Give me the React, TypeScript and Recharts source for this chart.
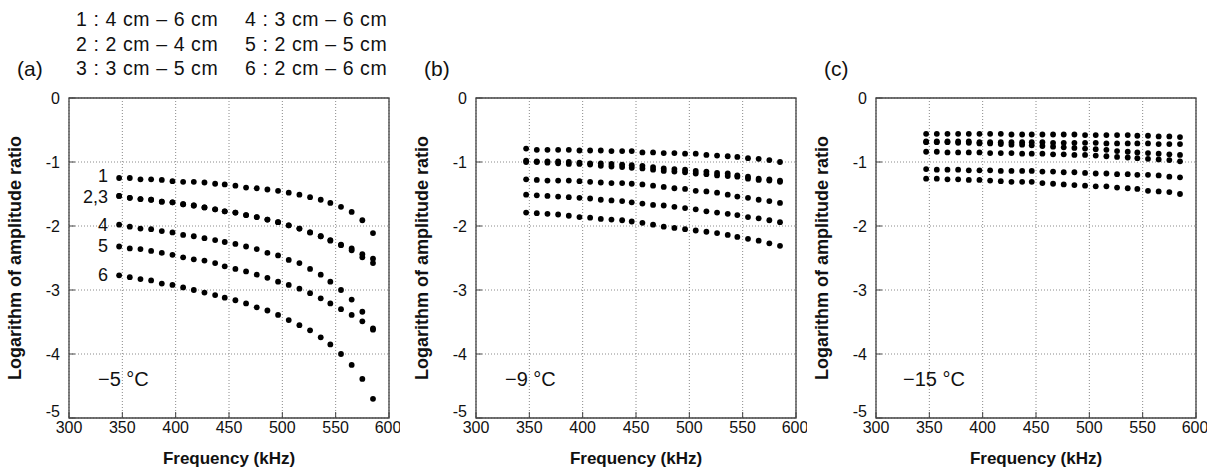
import { ScatterChart, Scatter, XAxis, YAxis, CartesianGrid, ReferenceArea } from 'recharts'

// frequencies (kHz) shared by every series
const FREQ = [347, 357, 367, 377, 387, 397, 407, 417, 427, 437, 446, 456, 466, 476, 486, 496, 506, 516, 526, 536, 545, 555, 565, 575, 585]

// (a) -5 °C
const A1 = [-1.25, -1.25, -1.27, -1.27, -1.28, -1.30, -1.31, -1.31, -1.32, -1.34, -1.35, -1.37, -1.40, -1.41, -1.43, -1.45, -1.48, -1.51, -1.55, -1.59, -1.64, -1.70, -1.78, -1.91, -2.11]
const A2 = [-1.53, -1.56, -1.58, -1.59, -1.62, -1.63, -1.66, -1.68, -1.71, -1.74, -1.77, -1.79, -1.83, -1.86, -1.90, -1.94, -1.99, -2.04, -2.10, -2.16, -2.22, -2.29, -2.35, -2.44, -2.51]
const A3 = [-1.53, -1.56, -1.58, -1.59, -1.62, -1.63, -1.66, -1.68, -1.71, -1.74, -1.77, -1.79, -1.83, -1.86, -1.90, -1.94, -1.99, -2.04, -2.10, -2.16, -2.23, -2.30, -2.38, -2.49, -2.58]
const A4 = [-1.98, -2.01, -2.04, -2.05, -2.08, -2.10, -2.14, -2.16, -2.19, -2.22, -2.25, -2.28, -2.32, -2.36, -2.42, -2.46, -2.53, -2.58, -2.67, -2.76, -2.87, -3.00, -3.15, -3.34, -3.60]
const A5 = [-2.32, -2.35, -2.36, -2.39, -2.42, -2.45, -2.49, -2.52, -2.54, -2.58, -2.63, -2.67, -2.71, -2.76, -2.81, -2.87, -2.92, -2.98, -3.05, -3.13, -3.21, -3.30, -3.39, -3.49, -3.62]
const A6 = [-2.77, -2.80, -2.83, -2.85, -2.90, -2.92, -2.96, -3.00, -3.04, -3.08, -3.12, -3.16, -3.21, -3.27, -3.32, -3.39, -3.47, -3.55, -3.63, -3.74, -3.85, -4.00, -4.17, -4.39, -4.70]

// (b) -9 °C
const B1 = [-0.79, -0.81, -0.81, -0.81, -0.81, -0.82, -0.82, -0.82, -0.83, -0.83, -0.83, -0.85, -0.85, -0.86, -0.86, -0.87, -0.87, -0.89, -0.90, -0.91, -0.92, -0.94, -0.95, -0.97, -1.00]
const B2 = [-0.98, -0.99, -0.99, -0.99, -1.00, -1.01, -1.02, -1.02, -1.03, -1.04, -1.05, -1.06, -1.08, -1.10, -1.11, -1.12, -1.14, -1.15, -1.17, -1.18, -1.21, -1.23, -1.26, -1.27, -1.29]
const B3 = [-1.00, -1.00, -1.01, -1.02, -1.03, -1.03, -1.04, -1.06, -1.07, -1.08, -1.09, -1.10, -1.12, -1.14, -1.15, -1.16, -1.18, -1.19, -1.21, -1.22, -1.23, -1.26, -1.28, -1.29, -1.31]
const B4 = [-1.27, -1.28, -1.29, -1.29, -1.29, -1.30, -1.31, -1.32, -1.33, -1.33, -1.34, -1.35, -1.37, -1.39, -1.41, -1.42, -1.45, -1.46, -1.48, -1.51, -1.54, -1.56, -1.59, -1.61, -1.64]
const B5 = [-1.51, -1.52, -1.53, -1.54, -1.55, -1.56, -1.57, -1.59, -1.60, -1.61, -1.63, -1.65, -1.67, -1.68, -1.70, -1.72, -1.74, -1.77, -1.79, -1.81, -1.83, -1.86, -1.88, -1.91, -1.94]
const B6 = [-1.79, -1.80, -1.81, -1.82, -1.84, -1.86, -1.87, -1.89, -1.90, -1.91, -1.93, -1.95, -1.98, -2.01, -2.03, -2.05, -2.07, -2.09, -2.11, -2.14, -2.17, -2.20, -2.23, -2.27, -2.31]

// (c) -15 °C
const C1 = [-0.56, -0.56, -0.56, -0.56, -0.56, -0.56, -0.56, -0.56, -0.57, -0.57, -0.57, -0.57, -0.57, -0.57, -0.57, -0.58, -0.58, -0.58, -0.58, -0.58, -0.59, -0.59, -0.60, -0.60, -0.61]
const C2 = [-0.68, -0.68, -0.68, -0.68, -0.68, -0.69, -0.69, -0.69, -0.69, -0.69, -0.69, -0.69, -0.70, -0.70, -0.70, -0.70, -0.70, -0.71, -0.71, -0.71, -0.71, -0.71, -0.72, -0.72, -0.72]
const C3 = [-0.69, -0.69, -0.69, -0.70, -0.70, -0.71, -0.71, -0.72, -0.73, -0.73, -0.74, -0.75, -0.76, -0.77, -0.78, -0.79, -0.80, -0.81, -0.83, -0.84, -0.85, -0.86, -0.87, -0.88, -0.89]
const C4 = [-0.84, -0.84, -0.85, -0.85, -0.85, -0.85, -0.86, -0.86, -0.86, -0.87, -0.87, -0.87, -0.88, -0.88, -0.89, -0.89, -0.90, -0.91, -0.92, -0.93, -0.94, -0.95, -0.96, -0.97, -0.99]
const C5 = [-1.11, -1.12, -1.12, -1.12, -1.13, -1.13, -1.13, -1.14, -1.14, -1.14, -1.14, -1.15, -1.15, -1.16, -1.16, -1.17, -1.18, -1.18, -1.19, -1.19, -1.20, -1.20, -1.21, -1.23, -1.24]
const C6 = [-1.26, -1.26, -1.27, -1.27, -1.28, -1.28, -1.29, -1.30, -1.31, -1.31, -1.31, -1.33, -1.34, -1.35, -1.36, -1.37, -1.38, -1.38, -1.40, -1.41, -1.42, -1.45, -1.46, -1.47, -1.50]

const X_TICKS = [300, 350, 400, 450, 500, 550, 600]
const Y_TICKS = [0, -1, -2, -3, -4, -5]
const LEGEND_LEFT = ['1 : 4 cm \u2013 6 cm', '2 : 2 cm \u2013 4 cm', '3 : 3 cm \u2013 5 cm']
const LEGEND_RIGHT = ['4 : 3 cm \u2013 6 cm', '5 : 2 cm \u2013 5 cm', '6 : 2 cm \u2013 6 cm']
const SERIES_LABELS_A = ['1', '2,3', '', '4', '5', '6']
// small vertical nudges so the stacked "1" and "2,3" labels don't collide
const LABEL_NUDGE_A = [-2, 1, 0, 0, 0, 0]

const FONT = '"Liberation Sans", Arial, Helvetica, sans-serif'
const CHART_W = 400
const CHART_H = 471

const toPoints = (vals: number[]) => FREQ.map((f, i) => ({ f, v: vals[i] }))

const dotShape = (label: string, nudge: number) => (props: any) => {
  const { cx, cy, payload } = props
  return (
    <g>
      <circle cx={cx} cy={cy} r={2.9} fill="#000" />
      {label && payload && payload.f === FREQ[0] ? (
        <text x={cx - 11} y={cy + nudge} textAnchor="end" dominantBaseline="central" fontSize={18} fontFamily={FONT} fill="#111">
          {label}
        </text>
      ) : null}
    </g>
  )
}

// y tick text; the bottom "-5" sits a little higher, clear of the "300" below it
const yTick = (props: any) => {
  const { x, y, payload } = props
  const shift = payload.value === -5 ? -7 : 0
  return (
    <text x={x} y={y + shift} dy="0.355em" textAnchor="end" fontSize={16} fontFamily={FONT} fill="#111">
      {payload.value}
    </text>
  )
}

const yLabel = (props: any) => {
  const vb = props.viewBox || {}
  const x = vb.x + vb.width - 54
  const y = vb.y + vb.height / 2
  return (
    <text x={x} y={y} transform={`rotate(-90, ${x}, ${y})`} textAnchor="middle" dominantBaseline="central"
      fontSize={18} fontWeight="bold" fontFamily={FONT} fill="#111">
      Logarithm of amplitude ratio
    </text>
  )
}

const xLabel = (props: any) => {
  const vb = props.viewBox || {}
  return (
    <text x={vb.x + vb.width / 2} y={vb.y + 40} textAnchor="middle" dominantBaseline="central"
      fontSize={17} fontWeight="bold" fontFamily={FONT} fill="#111">
      Frequency (kHz)
    </text>
  )
}

interface PanelProps {
  left: number;
  series: number[][];
  labels?: string[];
}

const Panel = ({ left, series, labels }: PanelProps) => (
  <div style={{ position: 'absolute', left, top: 0 }}>
    <ScatterChart width={CHART_W} height={CHART_H} margin={{ top: 98, right: 11, bottom: 0, left: 29 }}>
      <CartesianGrid stroke="#8a8a8a" strokeDasharray="1 2" />
      <XAxis type="number" dataKey="f" domain={[300, 600]} ticks={X_TICKS} height={53}
        axisLine={false} tickLine={{ stroke: '#444' }} tickSize={-6} tickMargin={10}
        tick={{ fontSize: 16, fill: '#111', fontFamily: FONT }} label={{ content: xLabel }} />
      <YAxis type="number" dataKey="v" domain={[-5, 0]} ticks={Y_TICKS} width={40}
        axisLine={false} tickLine={{ stroke: '#444' }} tickSize={-6} tickMargin={15}
        tick={yTick} label={{ content: yLabel }} />
      <ReferenceArea x1={300} x2={600} y1={-5} y2={0} fill="none" stroke="#444" strokeWidth={1.3} />
      {series.map((vals, i) => (
        <Scatter key={i} data={toPoints(vals)} fill="#000" isAnimationActive={false}
          shape={dotShape(labels ? labels[i] : '', LABEL_NUDGE_A[i])} />
      ))}
    </ScatterChart>
  </div>
)

export default function App() {
  return (
    <div style={{ position: 'absolute', left: 0, top: 0, width: 1218, height: 471, background: '#fff', fontFamily: FONT }}>
      <Panel left={0} series={[A1, A2, A3, A4, A5, A6]} labels={SERIES_LABELS_A} />
      <Panel left={407} series={[B1, B2, B3, B4, B5, B6]} />
      <Panel left={807} series={[C1, C2, C3, C4, C5, C6]} />
      <svg width={1218} height={471} style={{ position: 'absolute', left: 0, top: 0, pointerEvents: 'none' }}>
        <g fontFamily={FONT} fontSize={19.5} fill="#111" letterSpacing={0.6}>
          {LEGEND_LEFT.map((t, i) => (
            <text key={t} x={76} y={26 + i * 24.7}>{t}</text>
          ))}
          {LEGEND_RIGHT.map((t, i) => (
            <text key={t} x={245} y={26 + i * 24.7}>{t}</text>
          ))}
        </g>
        <g fontFamily={FONT} fontSize={21} fill="#111">
          <text x={17} y={76}>(a)</text>
          <text x={424} y={76}>(b)</text>
          <text x={824} y={76}>(c)</text>
        </g>
        <g fontFamily={FONT} fontSize={20} fill="#111">
          <text x={98} y={386}>{'\u22125 \u00b0C'}</text>
          <text x={505} y={386}>{'\u22129 \u00b0C'}</text>
          <text x={903} y={386}>{'\u221215 \u00b0C'}</text>
        </g>
      </svg>
    </div>
  )
}
